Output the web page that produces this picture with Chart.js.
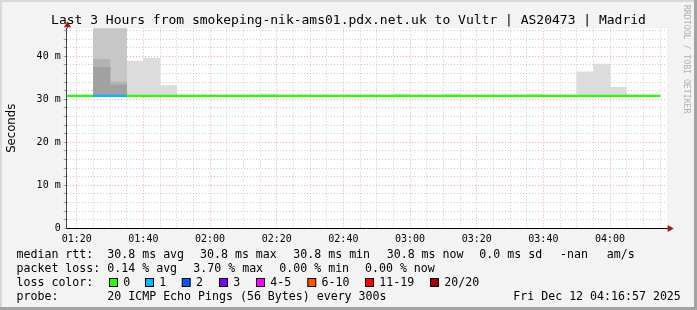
<!DOCTYPE html>
<html>
<head>
<meta charset="utf-8">
<script src="https://cdn.jsdelivr.net/npm/chart.js@4.4.1/dist/chart.umd.min.js"></script>
<style>
  html, body { margin: 0; padding: 0; background: #f3f3f3; }
  canvas { display: block; }
</style>
</head>
<body>
<canvas id="graph" width="697" height="310"></canvas>
<script>
// 5 minute steps, each labelled by the time it ends
const steps = [
  '01:20','01:25','01:30','01:35','01:40','01:45','01:50','01:55',
  '02:00','02:05','02:10','02:15','02:20','02:25','02:30','02:35','02:40','02:45','02:50','02:55',
  '03:00','03:05','03:10','03:15','03:20','03:25','03:30','03:35','03:40','03:45','03:50','03:55',
  '04:00','04:05','04:10','04:15'
];

// median rtt per step (ms)
const median = [
  30.8,30.8,30.8,30.8,30.8,30.8,30.8,30.8,
  30.8,30.8,30.8,30.8,30.8,30.8,30.8,30.8,30.8,30.8,30.8,30.8,
  30.8,30.8,30.8,30.8,30.8,30.8,30.8,30.8,30.8,30.8,30.8,30.8,
  30.8,30.8,30.8,30.8
];

// lost pings per step (out of 20)
const loss = [
  0,0,1,1,0,0,0,0,
  0,0,0,0,0,0,0,0,0,0,0,0,
  0,0,0,0,0,0,0,0,0,0,0,0,
  0,0,0,0
];

// smoke: lower edge and the tops of each grey layer (ms)
const smokeLow = [
  30.6,30.6,30.6,30.6,30.6,30.6,30.6,30.6,
  30.6,30.6,30.6,30.6,30.6,30.6,30.6,30.6,30.6,30.6,30.6,30.6,
  30.6,30.6,30.6,30.6,30.6,30.6,30.6,30.6,30.6,30.6,30.6,30.6,
  30.6,30.6,30.6,30.6
];
const smokeLight = [
  null,null,null,null,38.9,39.6,33.2,null,
  null,null,null,null,31.2,null,null,null,null,null,null,null,
  31.2,null,null,31.2,null,null,null,null,31.2,null,null,36.4,
  38.2,32.8,null,null
];
const smokeOuter = [null,null,48,48].concat(new Array(32).fill(null));
const smokeMid   = [null,null,39.3,34.0].concat(new Array(32).fill(null));
const smokeCore  = [null,null,37.4,33.3].concat(new Array(32).fill(null));

const xTickLabels = ['01:20','01:40','02:00','02:20','02:40','03:00','03:20','03:40','04:00'];
const yTickLabels = ['0','10 m','20 m','30 m','40 m'];

const lossLabels = ['0','1','2','3','4-5','6-10','11-19','20/20'];
const lossColors = ['#26ff00','#00b8ff','#0059ff','#7e00ff','#ff00ff','#ff5500','#ff0000','#a10000'];

const rttStats  = ['30.8 ms avg','30.8 ms max','30.8 ms min','30.8 ms now','0.0 ms sd','-nan','am/s'];
const lossStats = ['0.14 % avg','3.70 % max','0.00 % min','0.00 % now'];

const title = 'Last 3 Hours from smokeping-nik-ams01.pdx.net.uk to Vultr | AS20473 | Madrid';
const probe = '20 ICMP Echo Pings (56 Bytes) every 300s';
const stamp = 'Fri Dec 12 04:16:57 2025';

const toMin = s => { const p = s.split(':'); return +p[0] * 60 + +p[1]; };
const mid = steps.map(s => toMin(s) - 2.5);

function lossColor(n) {
  if (n <= 3) return lossColors[n];
  if (n <= 5) return lossColors[4];
  if (n <= 10) return lossColors[5];
  if (n <= 19) return lossColors[6];
  return lossColors[7];
}

function smokeSet(tops, color, order) {
  return {
    type: 'bar',
    data: mid.map((x, i) => ({ x: x, y: tops[i] == null ? null : [smokeLow[i], tops[i]] })),
    backgroundColor: color,
    borderWidth: 0,
    barPercentage: 1,
    categoryPercentage: 1,
    grouped: false,
    order: order
  };
}

const mono = '"DejaVu Sans Mono", monospace';

const rrdLook = {
  id: 'rrdLook',
  beforeDraw(chart) {
    const { ctx, chartArea: a } = chart;
    ctx.save();
    ctx.fillStyle = '#f3f3f3';
    ctx.fillRect(0, 0, 697, 310);
    // frame
    ctx.fillStyle = '#d9d9d9';
    ctx.fillRect(0, 0, 697, 2);
    ctx.fillRect(0, 0, 2, 310);
    ctx.fillStyle = '#a3a3a3';
    ctx.fillRect(694, 0, 3, 310);
    ctx.fillRect(0, 307, 697, 3);
    ctx.fillStyle = '#ffffff';
    ctx.fillRect(a.left, a.top, a.right - a.left, a.bottom - a.top);
    ctx.restore();
  },
  afterDraw(chart) {
    const { ctx, chartArea: a } = chart;
    ctx.save();
    // axis extensions and arrows
    ctx.strokeStyle = '#444';
    ctx.lineWidth = 1;
    ctx.beginPath();
    ctx.moveTo(Math.round(a.left) + 0.5, a.top);
    ctx.lineTo(Math.round(a.left) + 0.5, a.top - 3);
    ctx.stroke();
    ctx.strokeStyle = '#000';
    ctx.beginPath();
    ctx.moveTo(a.right, Math.round(a.bottom) + 0.5);
    ctx.lineTo(a.right + 2, Math.round(a.bottom) + 0.5);
    ctx.stroke();
    ctx.fillStyle = '#a01818';
    const ax = Math.round(a.left) + 0.5, ay = Math.round(a.bottom) + 0.5;
    ctx.beginPath();
    ctx.moveTo(ax, a.top - 7);
    ctx.lineTo(ax - 3.5, a.top - 1);
    ctx.lineTo(ax + 3.5, a.top - 1);
    ctx.closePath();
    ctx.fill();
    ctx.beginPath();
    ctx.moveTo(a.right + 7, ay);
    ctx.lineTo(a.right + 1, ay - 3.5);
    ctx.lineTo(a.right + 1, ay + 3.5);
    ctx.closePath();
    ctx.fill();

    // title
    ctx.fillStyle = '#000';
    ctx.font = '13px ' + mono;
    ctx.textAlign = 'center';
    ctx.textBaseline = 'alphabetic';
    ctx.fillText(title, 348.5, 24);

    // y axis title
    ctx.save();
    ctx.translate(15, (a.top + a.bottom) / 2);
    ctx.rotate(-Math.PI / 2);
    ctx.font = '11.7px "DejaVu Sans", sans-serif';
    ctx.fillText('Seconds', 0, 0);
    ctx.restore();

    // watermark
    ctx.save();
    ctx.translate(684, 5);
    ctx.rotate(Math.PI / 2);
    ctx.font = '8.2px ' + mono;
    ctx.fillStyle = '#b0b0b0';
    ctx.textAlign = 'left';
    ctx.fillText('RRDTOOL / TOBI OETIKER', 0, 0);
    ctx.restore();

    // legend
    ctx.font = '11.6px ' + mono;
    ctx.textAlign = 'left';
    ctx.fillStyle = '#000';
    const rttX = [107.3, 200, 293.3, 386.7, 479.3, 560, 606.7];
    const lossX = [107.3, 193.3, 279.3, 365];
    ctx.fillText('median rtt:', 16.5, 258.3);
    rttStats.forEach((t, i) => ctx.fillText(t, rttX[i], 258.3));
    ctx.fillText('packet loss:', 16.5, 272.3);
    lossStats.forEach((t, i) => ctx.fillText(t, lossX[i], 272.3));
    ctx.fillText('loss color:', 16.5, 286.2);
    const boxX = [109, 145, 181.7, 219, 256, 307.3, 365, 430];
    lossLabels.forEach((t, i) => {
      ctx.fillStyle = lossColors[i];
      ctx.fillRect(boxX[i] + 0.5, 278.5, 8, 8);
      ctx.strokeStyle = '#000';
      ctx.strokeRect(boxX[i] + 0.5, 278.5, 8, 8);
      ctx.fillStyle = '#000';
      ctx.fillText(t, boxX[i] + 14.3, 286.2);
    });
    ctx.fillText('probe:', 16.5, 300.2);
    ctx.fillText(probe, 107.3, 300.2);
    ctx.fillText(stamp, 513.3, 300.2);
    ctx.restore();
  }
};

new Chart(document.getElementById('graph'), {
  data: {
    datasets: [
      {
        type: 'bar',
        data: mid.map((x, i) => ({ x: x, y: [median[i] - 0.2, median[i] + 0.2] })),
        backgroundColor: loss.map(lossColor),
        borderWidth: 0,
        barPercentage: 1,
        categoryPercentage: 1,
        grouped: false,
        order: 0
      },
      smokeSet(smokeCore, '#a1a1a1', 1),
      smokeSet(smokeMid, '#b3b3b3', 2),
      smokeSet(smokeOuter, '#c7c7c7', 3),
      smokeSet(smokeLight, '#dcdcdc', 4)
    ]
  },
  options: {
    responsive: false,
    animation: false,
    events: [],
    layout: { padding: { top: 28.3, right: 30.3, left: 0, bottom: 0 } },
    plugins: { legend: { display: false }, tooltip: { enabled: false } },
    scales: {
      x: {
        type: 'linear',
        offset: false,
        min: toMin('01:17'),
        max: toMin('04:17'),
        afterBuildTicks: s => { s.ticks = steps.map(t => ({ value: toMin(t) })); },
        afterFit: s => { s.height = 81.7; },
        grid: {
          offset: false,
          color: c => (c.tick && c.tick.value % 20 === 0) ? 'rgba(240,110,110,0.6)' : 'rgba(160,160,160,0.55)',
          lineWidth: 1,
          drawTicks: false
        },
        border: { display: true, color: '#000', width: 1, dash: [1, 2] },
        ticks: {
          autoSkip: false,
          maxRotation: 0,
          padding: 5,
          color: '#000',
          font: { family: mono, size: 10 },
          callback: v => {
            const lbl = xTickLabels.find(t => toMin(t) === v);
            return lbl || '';
          }
        }
      },
      y: {
        type: 'linear',
        min: 0,
        max: 46.5,
        afterBuildTicks: s => {
          const t = [];
          for (let v = 0; v <= 46; v += 2) t.push({ value: v });
          s.ticks = t;
        },
        afterFit: s => { s.width = 66.7; },
        grid: {
          color: c => {
            const v = c.tick ? c.tick.value : 0;
            if (v === 0) return 'rgba(0,0,0,0)';
            return v % 10 === 0 ? 'rgba(240,110,110,0.6)' : 'rgba(160,160,160,0.55)';
          },
          tickColor: '#999',
          tickLength: 3,
          lineWidth: 1
        },
        border: { display: true, color: '#444', width: 1, dash: [1, 2] },
        ticks: {
          autoSkip: false,
          padding: 3,
          color: '#000',
          font: { family: mono, size: 10 },
          callback: v => (v % 10 === 0 ? yTickLabels[v / 10] : '')
        }
      }
    }
  },
  plugins: [rrdLook]
});
</script>
</body>
</html>
